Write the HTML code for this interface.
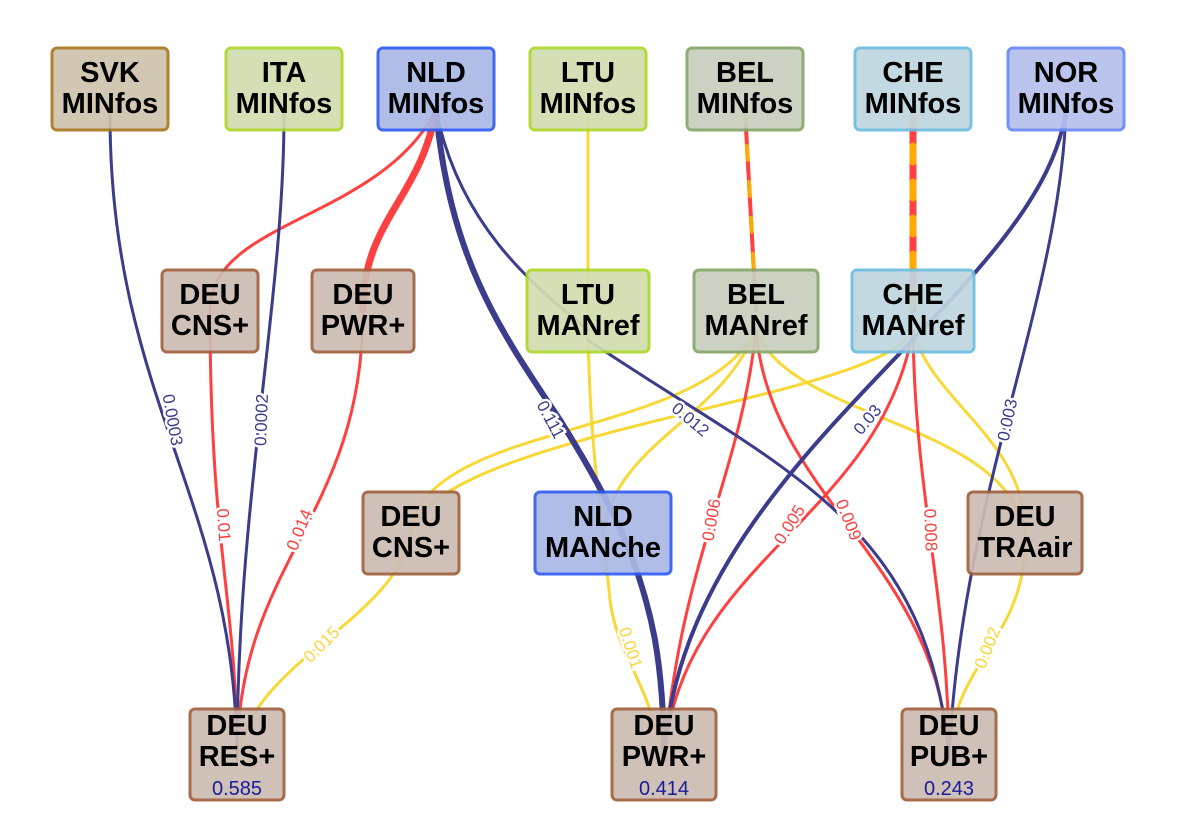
<!DOCTYPE html>
<html><head><meta charset="utf-8"><style>
html,body{margin:0;padding:0;background:#fff;}
svg{display:block;}
.n{font-family:"Liberation Sans",sans-serif;font-weight:bold;font-size:29px;fill:#000;text-anchor:middle;}
.v{font-family:"Liberation Sans",sans-serif;font-size:20px;fill:#1a1a9a;text-anchor:middle;}
.l{font-family:"Liberation Sans",sans-serif;font-size:17px;text-anchor:middle;paint-order:stroke;stroke:#fff;stroke-width:5px;}
path{fill:none;}
</style></head><body>
<svg width="1197" height="834" viewBox="0 0 1197 834" xmlns="http://www.w3.org/2000/svg">
<g stroke-linecap="round">
<g stroke="#f7d837" stroke-width="3">
<path d="M588,110 L588,330"/>
<path d="M588,330 C590,450 600,500 610,600 C618,660 650,680 662,760"/>
<path d="M756,330 C700,440 430,420 411,530"/>
<path d="M756,330 C720,420 620,440 603,530"/>
<path d="M756,330 C790,420 1000,420 1025,530"/>
<path d="M913,330 C880,400 450,430 411,530"/>
<path d="M913,330 C930,400 1025,440 1025,530"/>
<path d="M411,530 C400,620 250,660 237,760"/>
<path d="M1025,530 C1030,640 950,660 949,760"/>
</g>
<g stroke="#ff4040" stroke-width="3">
<path d="M436,110 C380,220 210,220 210,310"/>
<path d="M210,310 C210,550 237,600 237,760"/>
<path d="M436,110 C420,200 363,220 363,310" stroke-width="7"/>
<path d="M363,310 C363,520 237,560 237,760"/>
<path d="M756,330 C740,480 680,560 664,760"/>
<path d="M756,330 C770,500 940,560 949,760"/>
<path d="M913,330 C880,520 680,560 664,760"/>
<path d="M913,330 C915,500 949,600 949,760"/>
<path d="M745,110 L756,310" stroke-width="4"/>
<path d="M913,110 L913,310" stroke-width="7"/>
</g>
<path d="M745,110 L756,310" stroke="#ffaa00" stroke-width="4" stroke-dasharray="14,22"/>
<path d="M913,110 L913,310" stroke="#ffaa00" stroke-width="7" stroke-dasharray="16,20"/>
<g stroke="#3c3c8c" stroke-width="3">
<path d="M110,115 C110,400 237,500 237,760"/>
<path d="M284,115 C284,300 237,500 237,760"/>
<path d="M436,110 C450,260 500,330 560,420 C610,500 640,560 655,640 C662,680 664,720 664,760" stroke-width="6"/>
<path d="M436,110 C460,230 540,290 588,330"/>
<path d="M588,340 C780,470 930,520 949,760"/>
<path d="M1066,110 C1040,300 680,460 664,760" stroke-width="4"/>
<path d="M1066,110 C1060,300 960,500 949,760"/>
</g>
</g>
<g class="l">
<text transform="translate(172,420) rotate(80)" fill="#3c3c8c" dy="5">0.0003</text>
<text transform="translate(262,420) rotate(-88)" fill="#3c3c8c" dy="5">0.0002</text>
<text transform="translate(223,525) rotate(86)" fill="#ff4040" dy="5">0.01</text>
<text transform="translate(300,530) rotate(-68)" fill="#ff4040" dy="5">0.014</text>
<text transform="translate(550,420) rotate(62)" fill="#3c3c8c" dy="5">0.111</text>
<text transform="translate(690,420) rotate(40)" fill="#3c3c8c" dy="5">0.012</text>
<text transform="translate(868,420) rotate(-50)" fill="#3c3c8c" dy="5">0.03</text>
<text transform="translate(1008,420) rotate(-78)" fill="#3c3c8c" dy="5">0.003</text>
<text transform="translate(712,520) rotate(-80)" fill="#ff4040" dy="5">0.006</text>
<text transform="translate(790,525) rotate(-58)" fill="#ff4040" dy="5">0.005</text>
<text transform="translate(848,520) rotate(68)" fill="#ff4040" dy="5">0.009</text>
<text transform="translate(930,530) rotate(88)" fill="#ff4040" dy="5">0.008</text>
<text transform="translate(322,645) rotate(-45)" fill="#f7d837" dy="5">0.015</text>
<text transform="translate(630,648) rotate(72)" fill="#f7d837" dy="5">0.001</text>
<text transform="translate(988,648) rotate(-68)" fill="#f7d837" dy="5">0.002</text>
</g>
<g stroke-width="3" opacity="0.92">
<rect x="52" y="48" width="116" height="82" rx="5" fill="#cfc3ac" stroke="#a8781e"/>
<rect x="226" y="48" width="116" height="82" rx="5" fill="#d1ddb0" stroke="#acd62a"/>
<rect x="378" y="48" width="116" height="82" rx="5" fill="#aab8e6" stroke="#2f5df5"/>
<rect x="530" y="48" width="116" height="82" rx="5" fill="#d1ddb0" stroke="#acd62a"/>
<rect x="687" y="48" width="116" height="82" rx="5" fill="#c7cfbd" stroke="#86a66a"/>
<rect x="855" y="48" width="116" height="82" rx="5" fill="#bfd5e0" stroke="#6cbde0"/>
<rect x="1008" y="48" width="116" height="82" rx="5" fill="#b6c0ec" stroke="#6a88f5"/>
<rect x="162" y="270" width="96" height="82" rx="5" fill="#cdbcb2" stroke="#a0603c"/>
<rect x="312" y="270" width="102" height="82" rx="5" fill="#cdbcb2" stroke="#a0603c"/>
<rect x="527" y="270" width="122" height="82" rx="5" fill="#d1ddb0" stroke="#acd62a"/>
<rect x="694" y="270" width="124" height="82" rx="5" fill="#c7cfbd" stroke="#86a66a"/>
<rect x="852" y="270" width="122" height="82" rx="5" fill="#bfd5e0" stroke="#6cbde0"/>
<rect x="363" y="492" width="96" height="82" rx="5" fill="#cdbcb2" stroke="#a0603c"/>
<rect x="535" y="492" width="136" height="82" rx="5" fill="#aab8e6" stroke="#2f5df5"/>
<rect x="968" y="492" width="114" height="82" rx="5" fill="#cdbcb2" stroke="#a0603c"/>
<rect x="190" y="709" width="94" height="91" rx="5" fill="#cdbcb2" stroke="#a0603c"/>
<rect x="612" y="709" width="104" height="91" rx="5" fill="#cdbcb2" stroke="#a0603c"/>
<rect x="902" y="709" width="94" height="91" rx="5" fill="#cdbcb2" stroke="#a0603c"/>
</g>
<g class="n">
<text x="110" y="82">SVK</text><text x="110" y="113">MINfos</text>
<text x="284" y="82">ITA</text><text x="284" y="113">MINfos</text>
<text x="436" y="82">NLD</text><text x="436" y="113">MINfos</text>
<text x="588" y="82">LTU</text><text x="588" y="113">MINfos</text>
<text x="745" y="82">BEL</text><text x="745" y="113">MINfos</text>
<text x="913" y="82">CHE</text><text x="913" y="113">MINfos</text>
<text x="1066" y="82">NOR</text><text x="1066" y="113">MINfos</text>
<text x="210" y="304">DEU</text><text x="210" y="335">CNS+</text>
<text x="363" y="304">DEU</text><text x="363" y="335">PWR+</text>
<text x="588" y="304">LTU</text><text x="588" y="335">MANref</text>
<text x="756" y="304">BEL</text><text x="756" y="335">MANref</text>
<text x="913" y="304">CHE</text><text x="913" y="335">MANref</text>
<text x="411" y="526">DEU</text><text x="411" y="557">CNS+</text>
<text x="603" y="526">NLD</text><text x="603" y="557">MANche</text>
<text x="1025" y="526">DEU</text><text x="1025" y="557">TRAair</text>
<text x="237" y="735">DEU</text><text x="237" y="766">RES+</text>
<text x="664" y="735">DEU</text><text x="664" y="766">PWR+</text>
<text x="949" y="735">DEU</text><text x="949" y="766">PUB+</text>
</g>
<g class="v">
<text x="237" y="795">0.585</text>
<text x="664" y="795">0.414</text>
<text x="949" y="795">0.243</text>
</g>
</svg>
</body></html>
